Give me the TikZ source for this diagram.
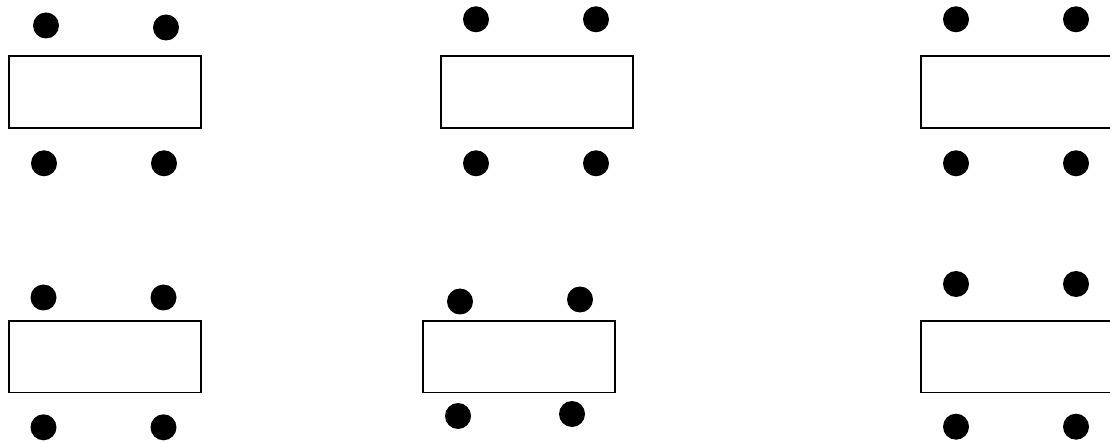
\documentclass[tikz,border=0pt]{standalone}
\usepackage{tikz}
\usetikzlibrary{positioning}
\tikzset{
  tablebox/.style={draw=black, line width=1.6pt, fill=white, rectangle,
    minimum width=192pt, minimum height=71.5pt, inner sep=0pt, anchor=north west},
  chair/.style={circle, fill=black, minimum size=26pt, inner sep=0pt}
}

\begin{document}
\begin{tikzpicture}[x=1pt, y=-1pt]
    \useasboundingbox (0,0) rectangle (1110,443);
    \clip (0,0) rectangle (1110,443);
    % top row
    \node[tablebox] (tabA) at (8,55.5) {};
    \node[chair] (chairA1) at (46,25.5) {};
    \node[chair] (chairA2) at (166,27.5) {};
    \node[chair] (chairA3) at (44,163.3) {};
    \node[chair] (chairA4) at (164,163.3) {};

    \node[tablebox] (tabB) at (440,55.5) {};
    \node[chair] (chairB1) at (476,19.3) {};
    \node[chair] (chairB2) at (596,19.3) {};
    \node[chair] (chairB3) at (476,163.3) {};
    \node[chair] (chairB4) at (596,163.3) {};

    \node[tablebox] (tabC) at (920,55.5) {};
    \node[chair] (chairC1) at (956,19.3) {};
    \node[chair] (chairC2) at (1076,19.3) {};
    \node[chair] (chairC3) at (956,163.3) {};
    \node[chair] (chairC4) at (1076,163.3) {};

    % bottom row
    \node[tablebox] (tabD) at (8,320) {};
    \node[chair] (chairD1) at (43.5,297.5) {};
    \node[chair] (chairD2) at (163.5,297.5) {};
    \node[chair] (chairD3) at (43.5,427.3) {};
    \node[chair] (chairD4) at (163.5,427.3) {};

    \node[tablebox] (tabE) at (422,320) {};
    \node[chair] (chairE1) at (460,301.5) {};
    \node[chair] (chairE2) at (580,299.5) {};
    \node[chair] (chairE3) at (458,416) {};
    \node[chair] (chairE4) at (572,414) {};

    \node[tablebox] (tabF) at (920,320) {};
    \node[chair] (chairF1) at (956,284) {};
    \node[chair] (chairF2) at (1076,284) {};
    \node[chair] (chairF3) at (956,426.7) {};
    \node[chair] (chairF4) at (1076,426.7) {};
  \end{tikzpicture}
\end{document}
